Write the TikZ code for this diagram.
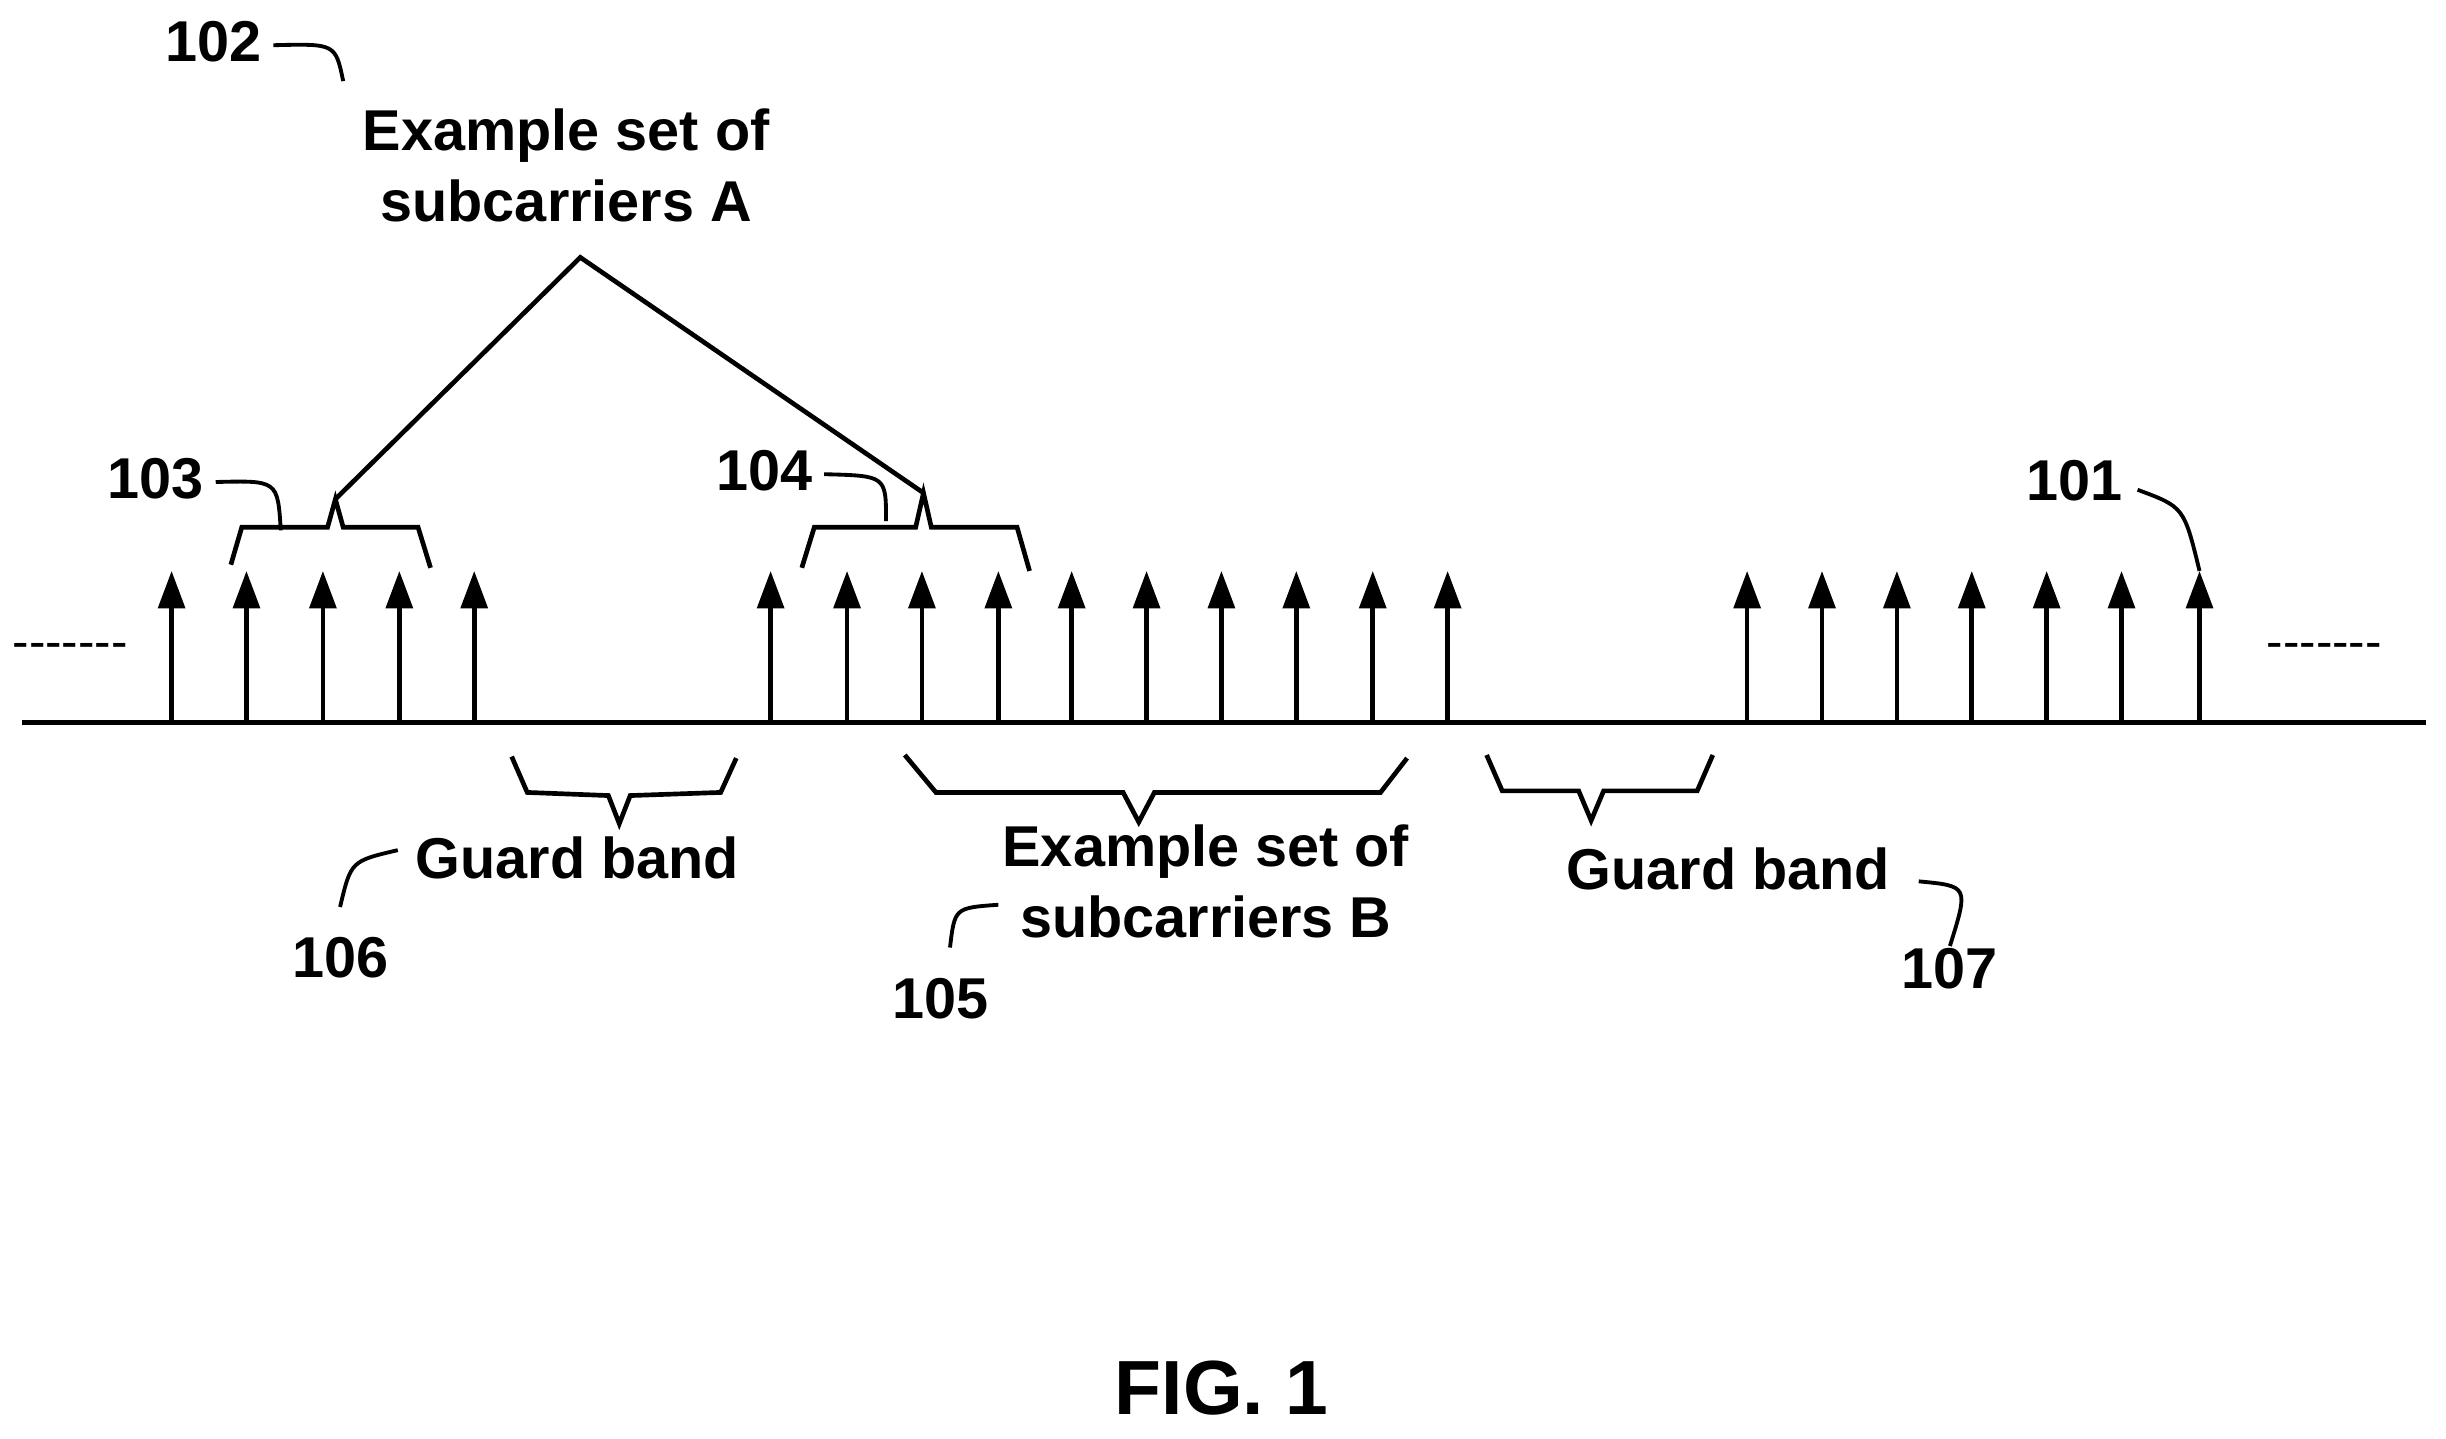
\documentclass[tikz,border=0pt]{standalone}
\usepackage{fontspec}
\setmainfont{Liberation Sans}
\usetikzlibrary{arrows.meta}
\begin{document}
\begin{tikzpicture}
        [x=0.01cm,y=-0.01cm,line width=0.85pt,
         lbl/.style={font=\bfseries\fontsize{10.5}{13}\selectfont,inner sep=0pt,align=center},
         carrier/.style={-{Triangle[length=0.24cm,width=0.17cm]}},
         lead/.style={line width=0.7pt}]
        \useasboundingbox (0,0) rectangle (1568,922);

        \coordinate (axL) at (14,463);
        \coordinate (axR) at (1555,463);
        \draw (axL) -- (axR);
        \node[lbl,font=\fontsize{9}{11}\selectfont] (dotsL) at (45,417) {-{}-{}-{}-{}-{}-{}-};
        \node[lbl,font=\fontsize{9}{11}\selectfont] (dotsR) at (1490,417) {-{}-{}-{}-{}-{}-{}-};

        \foreach \x in {110,158,207,256,304,494,543,591,640,687,735,783,831,880,928,1120,1168,1216,1264,1312,1360,1410}
        {\coordinate (b\x) at (\x,463);
         \coordinate (t\x) at (\x,366);
         \draw[carrier] (b\x) -- (t\x);}

        % braces above
        \coordinate (apexA) at (215,320);
        \coordinate (apexB) at (592,316);
        \coordinate (topA) at (372,165);
        \draw (148,362) -- (155,338) -- (210,338) -- (apexA) -- (220,338) -- (268,338) -- (276,364);
        \draw (514,364) -- (522,338) -- (587,338) -- (apexB) -- (597,338) -- (652,338) -- (660,366);
        \draw (apexA) -- (topA) -- (apexB);
        \node[lbl] (setA) at (363,106) {Example set of\\subcarriers A};

        % braces below
        \draw (328,485) -- (338,508) -- (390,510) -- (397,528) -- (404,510) -- (462,508) -- (472,486);
        \draw (580,484) -- (600,508) -- (720,508) -- (730,527) -- (740,508) -- (885,508) -- (902,486);
        \draw (953,484) -- (963,507) -- (1012,507) -- (1020,526) -- (1028,507) -- (1088,507) -- (1098,484);
        \node[lbl] (gb1) at (370,550) {Guard band};
        \node[lbl] (setB) at (773,565) {Example set of\\subcarriers B};
        \node[lbl] (gb2) at (1108,557) {Guard band};

        % reference numerals
        \node[lbl] (n101) at (1330,308) {101};
        \node[lbl] (n102) at (137,27) {102};
        \node[lbl] (n103) at (100,307) {103};
        \node[lbl] (n104) at (490,302) {104};
        \node[lbl] (n105) at (603,640) {105};
        \node[lbl] (n106) at (218,614) {106};
        \node[lbl] (n107) at (1250,621) {107};
        \draw[lead] (n101.east) ++(8,6) .. controls (1400,325) .. (t1410);
        \draw[lead] (n102.east) ++(6,2) .. controls (215,28) .. (220,52);
        \draw[lead] (n103.east) ++(6,2) .. controls (178,308) .. (180,340);
        \draw[lead] (n104.east) ++(6,2) .. controls (568,305) .. (568,334);
        \draw[lead] (n105.north) ++(6,-18) .. controls (612,582) .. (640,580);
        \draw[lead] (n106.north) ++(0,-18) .. controls (225,552) .. (255,545);
        \draw[lead] (1230,565) .. controls (1262,568) .. (n107.north);

        \node[font=\bfseries\fontsize{14}{17}\selectfont,inner sep=0pt] (fig) at (783,890) {FIG. 1};
      \end{tikzpicture}
\end{document}
